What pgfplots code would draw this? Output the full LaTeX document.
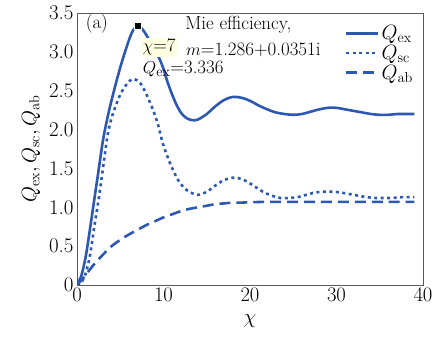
\documentclass[border=0pt]{standalone}
\usepackage{pgfplots}
\pgfplotsset{compat=1.18}
\definecolor{qblue}{RGB}{45,88,178}
\definecolor{tipbg}{RGB}{255,255,225}
\begin{document}
\begin{tikzpicture}
\useasboundingbox (-77bp,-55bp) rectangle (360bp,285bp);
\begin{axis}[
  scale only axis, width=346bp, height=272bp,
  xmin=0, xmax=40, ymin=0, ymax=3.5,
  xtick={0,10,20,30,40},
  ytick={0,0.5,1,1.5,2,2.5,3,3.5},
  yticklabels={0,0.5,1.0,1.5,2.0,2.5,3.0,3.5},
  major tick length=0pt,
  axis line style={draw=black!65, line width=0.6pt},
  tick label style={font=\fontsize{21}{23}\selectfont},
  label style={font=\fontsize{21}{23}\selectfont},
  xlabel={$\chi$},
  ylabel={$Q_{\mathrm{ex}},Q_{\mathrm{sc}},Q_{\mathrm{ab}}$},
  xlabel style={yshift=-6pt},
  ylabel style={yshift=2pt},
  legend style={draw=none, fill=none, at={(0.98,0.965)}, anchor=north east,
     font=\fontsize{20}{22}\selectfont, row sep=0pt, inner sep=1pt},
  legend cell align=left,
  legend image code/.code={\draw[#1] (0bp,0bp) -- (32bp,0bp);},
]
\addplot[qblue, line width=2.6pt, smooth] coordinates {
(0,0) (0.5,0.12) (1,0.36) (1.5,0.72) (2,1.1) (2.5,1.48) (3,1.86) (3.5,2.14) (4,2.38) (5,2.8) (6,3.15) (6.5,3.28) (7,3.336) (7.5,3.3) (8,3.22) (8.5,3.12) (9,3.02) (9.5,2.92) (10,2.78) (10.5,2.6) (11,2.45) (11.5,2.32) (12,2.22) (12.5,2.16) (13,2.13) (13.5,2.12) (14,2.13) (15,2.2) (16,2.3) (17,2.38) (18,2.42) (19,2.41) (20,2.37) (21,2.31) (22,2.26) (23,2.22) (24,2.2) (25,2.19) (26,2.2) (27,2.23) (28,2.26) (29,2.28) (30,2.28) (31,2.26) (32,2.24) (33,2.22) (34,2.2) (35,2.19) (36,2.19) (37,2.2) (38,2.2) (39,2.2)
};
\addlegendentry{$Q_{\mathrm{ex}}$}
\addplot[qblue, line width=2.6pt, dash pattern=on 3pt off 3.5pt, smooth] coordinates {
(0,0) (0.5,0.03) (1,0.15) (1.5,0.38) (2,0.75) (2.5,1.1) (3,1.5) (3.5,1.9) (4,2.15) (5,2.45) (6,2.62) (6.6,2.65) (7.3,2.6) (8,2.46) (8.8,2.25) (9.4,2.05) (9.9,1.83) (10.5,1.64) (11.1,1.48) (11.8,1.33) (12.7,1.22) (13.9,1.16) (15,1.2) (16,1.28) (17,1.35) (18,1.38) (18.5,1.38) (19.5,1.34) (20.5,1.27) (21.5,1.2) (22.5,1.15) (23.5,1.12) (24.5,1.12) (25.5,1.13) (26.5,1.16) (27.5,1.19) (28.5,1.2) (29.5,1.2) (30.5,1.19) (31.5,1.17) (32.5,1.15) (33.5,1.13) (34.5,1.12) (35.5,1.12) (36.5,1.12) (37.5,1.13) (39,1.13)
};
\addlegendentry{$Q_{\mathrm{sc}}$}
\addplot[qblue, line width=2.6pt, dash pattern=on 11pt off 6pt, smooth] coordinates {
(0,0) (0.5,0.06) (1,0.13) (2,0.27) (3,0.39) (4,0.5) (5,0.58) (6,0.65) (7,0.71) (8,0.77) (9,0.82) (10,0.87) (11,0.91) (12,0.95) (13,0.98) (14,1.0) (15,1.02) (16,1.04) (17,1.05) (18,1.06) (19,1.06) (20,1.065) (22,1.07) (25,1.07) (28,1.07) (31,1.07) (34,1.07) (37,1.07) (39,1.07)
};
\addlegendentry{$Q_{\mathrm{ab}}$}
\addplot[only marks, mark=square*, mark size=3.5pt, mark options={fill=black, draw=tipbg, line width=1pt}] coordinates {(7,3.336)};
\node[anchor=west, fill=tipbg, inner sep=1.5pt, font=\fontsize{19}{21}\selectfont] at (axis cs:7.4,3.06) {$\chi$=7};
\node[anchor=west, inner sep=0pt, font=\fontsize{19}{21}\selectfont] at (axis cs:7.6,2.78) {$Q_{\mathrm{ex}}$=3.336};
\node[font=\fontsize{19}{21}\selectfont] at (axis cs:2.3,3.36) {(a)};
\node[anchor=west, inner sep=0pt, font=\fontsize{19}{21}\selectfont] at (axis cs:12.5,3.35) {Mie efficiency,};
\node[anchor=west, inner sep=0pt, font=\fontsize{19}{21}\selectfont] at (axis cs:12.6,3.03) {$m$=1.286+0.0351i};
\end{axis}
\end{tikzpicture}
\end{document}
